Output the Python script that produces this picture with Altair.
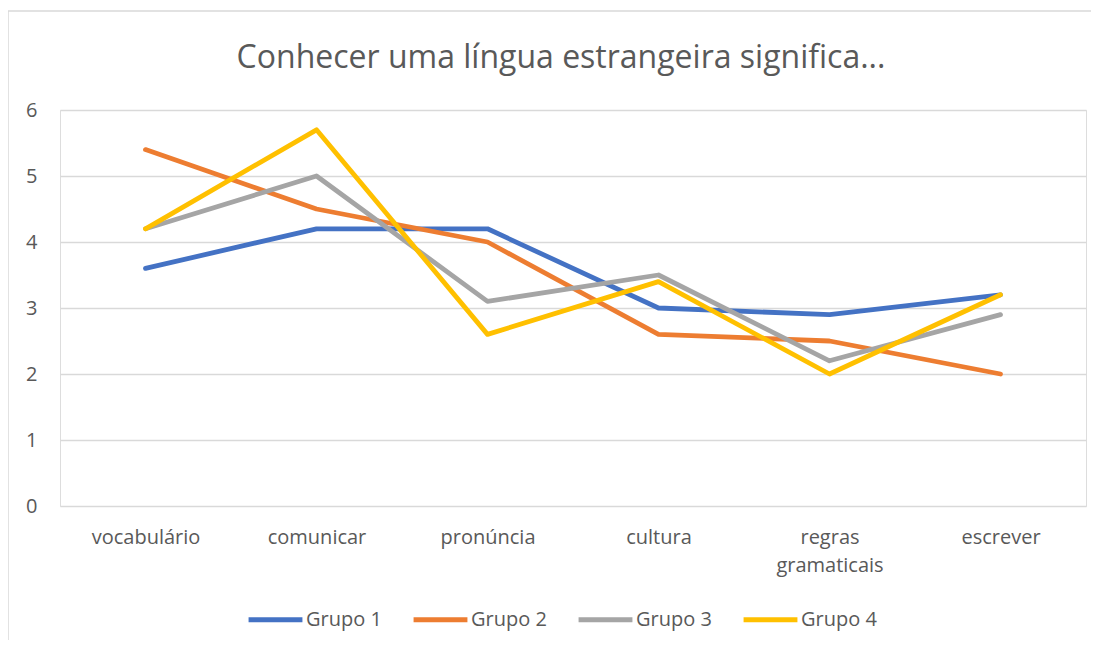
import altair as alt
import pandas as pd

categories = ["vocabulário", "comunicar", "pronúncia", "cultura", "regras gramaticais", "escrever"]
series_names = ["Grupo 1", "Grupo 2", "Grupo 3", "Grupo 4"]
grupo1 = [3.6, 4.2, 4.2, 3.0, 2.9, 3.2]
grupo2 = [5.4, 4.5, 4.0, 2.6, 2.5, 2.0]
grupo3 = [4.2, 5.0, 3.1, 3.5, 2.2, 2.9]
grupo4 = [4.2, 5.7, 2.6, 3.4, 2.0, 3.2]
colors = ["#4472C4", "#ED7D31", "#A5A5A5", "#FFC000"]
y_ticks = [0, 1, 2, 3, 4, 5, 6]
title_text = "Conhecer uma língua estrangeira significa..."

rows = []
for name, vals in zip(series_names, [grupo1, grupo2, grupo3, grupo4]):
    for c, v in zip(categories, vals):
        rows.append({"categoria": c, "valor": v, "grupo": name})
df = pd.DataFrame(rows)

FONT = "Open Sans"
TXT = "#595959"
GRID = "#D9D9D9"
LBL = 20

lines = alt.Chart(df).mark_line(strokeWidth=4.8, strokeCap="round", strokeJoin="round").encode(
    x=alt.X("categoria:N", sort=categories, title=None,
            scale=alt.Scale(type="point", padding=0.5),
            axis=alt.Axis(labelAngle=0, domain=False, ticks=False, grid=False,
                          labelPadding=21, labelFontSize=LBL, labelColor=TXT, labelFont=FONT,
                          labelLineHeight=28,
                          labelExpr="datum.label == 'regras gramaticais' ? ['regras', 'gramaticais'] : datum.label")),
    y=alt.Y("valor:Q", title=None,
            scale=alt.Scale(domain=[0, 6], nice=False),
            axis=alt.Axis(values=y_ticks, domain=False, ticks=False, grid=True,
                          gridColor=GRID, gridWidth=1.5, labelPadding=23,
                          labelFontSize=LBL, labelColor=TXT, labelFont=FONT)),
    color=alt.Color("grupo:N", sort=series_names,
                    scale=alt.Scale(domain=series_names, range=colors),
                    legend=alt.Legend(title=None, orient="none", direction="horizontal",
                                      legendX=186, legendY=480,
                                      symbolType="stroke", symbolSize=2900, symbolStrokeWidth=5,
                                      labelFontSize=LBL, labelColor=TXT, labelFont=FONT,
                                      labelOffset=1, columnPadding=21)),
)

one = pd.DataFrame({"t": [title_text]})
title = alt.Chart(one).mark_text(font=FONT, fontSize=32, color=TXT, align="center",
                                 baseline="middle").encode(
    text="t:N", x=alt.value(501), y=alt.value(-52)
)
frame_top = alt.Chart(one).mark_rule(color=GRID, strokeWidth=1.5).encode(
    x=alt.value(-52), x2=alt.value(1040), y=alt.value(-99)
)
frame_left = alt.Chart(one).mark_rule(color=GRID, strokeWidth=1.5).encode(
    x=alt.value(-52), y=alt.value(-99), y2=alt.value(535)
)

chart = alt.layer(frame_top, frame_left, title, lines).properties(
    width=1026, height=396,
    autosize=alt.AutoSizeParams(type="none"),
    padding={"left": 52, "top": 102, "right": 5, "bottom": 134},
).configure_view(stroke=None).configure(background="white")

chart.save("out.html", embed_options={"renderer": "svg", "actions": False})
